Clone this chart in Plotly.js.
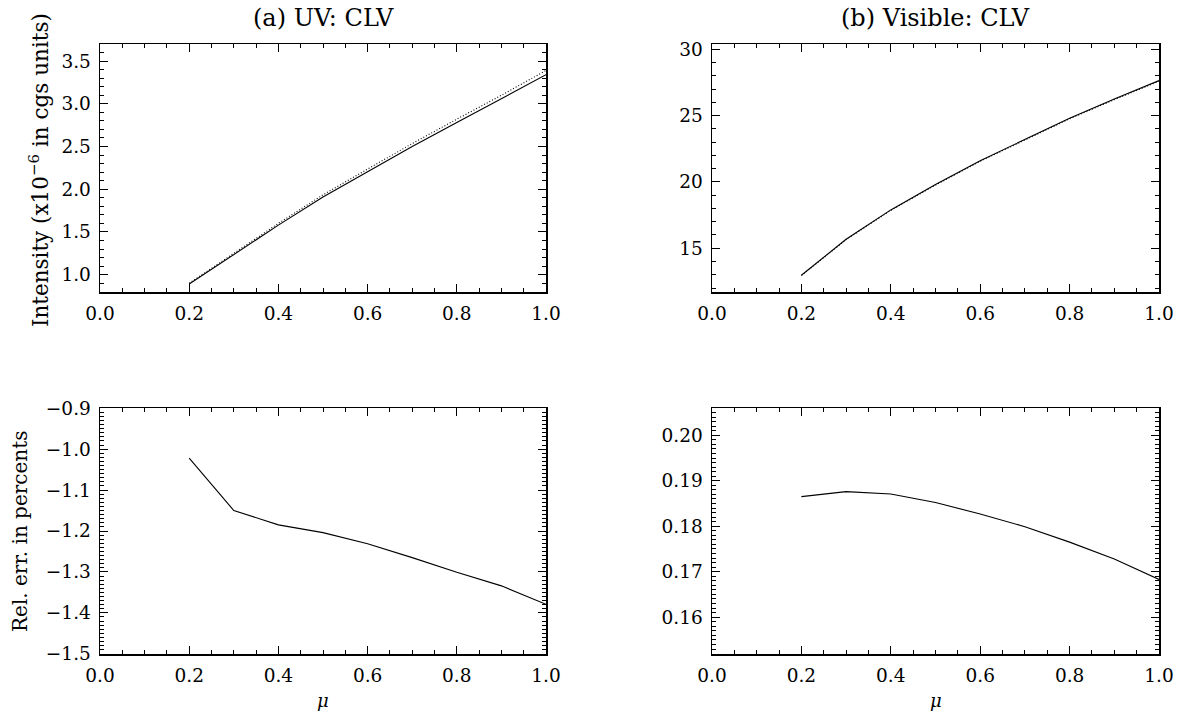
<!DOCTYPE html>
<html>
<head>
<meta charset="utf-8">
<script src="https://cdn.plot.ly/plotly-3.0.1.min.js"></script>
<style>html,body{margin:0;padding:0;background:#fff;}#chart{width:1178px;height:713px;}</style>
</head>
<body>
<div id="chart"></div>
<script>
// ---- data ----
const mu = [0.2, 0.3, 0.4, 0.5, 0.6, 0.7, 0.8, 0.9, 1.0];
const uvSolid  = [0.89, 1.24, 1.58, 1.91, 2.21, 2.50, 2.78, 3.06, 3.34];
const uvDotted = [0.90, 1.255, 1.60, 1.935, 2.24, 2.535, 2.82, 3.10, 3.39];
const visSolid  = [12.96, 15.68, 17.89, 19.80, 21.60, 23.20, 24.80, 26.25, 27.64];
const visDotted = [12.94, 15.65, 17.86, 19.76, 21.56, 23.16, 24.76, 26.20, 27.59];
const uvErr  = [-1.022, -1.150, -1.185, -1.204, -1.231, -1.265, -1.301, -1.334, -1.379];
const visErr = [0.1865, 0.1876, 0.1871, 0.1852, 0.1827, 0.1799, 0.1765, 0.1728, 0.1683];

const titleA = "(a) UV: CLV";
const titleB = "(b) Visible: CLV";
const yTitleTop = "Intensity (x10<sup>−6</sup> in cgs units)";
const yTitleBottom = "Rel. err. in percents";
const xTitle = "<i>μ</i>";

const FONT = "DejaVu Serif";
const W = 1178, H = 713;

function line(x, y, xa, ya, dash) {
  return {x: x, y: y, xaxis: xa, yaxis: ya, type: 'scatter', mode: 'lines',
          line: {color: '#000', width: 1.1, dash: dash || 'solid'}, hoverinfo: 'skip'};
}

const data = [
  line(mu, uvSolid, 'x', 'y'),
  line(mu, uvDotted, 'x', 'y', '1px,2px'),
  line(mu, visSolid, 'x2', 'y2'),
  line(mu, visDotted, 'x2', 'y2', '1px,2px'),
  line(mu, uvErr, 'x3', 'y3'),
  line(mu, visErr, 'x4', 'y4')
];

function ax(extra) {
  return Object.assign({
    showline: true, linecolor: '#000', linewidth: 1.5, mirror: 'allticks',
    ticks: 'inside', ticklen: 8, tickwidth: 1, tickcolor: '#000',
    showgrid: false, zeroline: false, fixedrange: true,
    tickfont: {family: FONT, size: 18.5, color: '#000'},
    ticklabelstandoff: 4
  }, extra);
}

function xAx(domain, anchor) {
  return ax({domain: domain, anchor: anchor, range: [0, 1], dtick: 0.2, tick0: 0,
    tickformat: '.1f', minor: {dtick: 0.05, ticklen: 4, ticks: 'inside', tickcolor: '#000', showgrid: false}});
}

const xd1 = [100 / W, 546 / W];
const xd2 = [712 / W, 1159 / W];
const yd1 = [1 - 292 / H, 1 - 44 / H];
const yd2 = [1 - 654 / H, 1 - 408 / H];

const layout = {
  width: W, height: H,
  margin: {l: 0, r: 0, t: 0, b: 0},
  paper_bgcolor: '#fff', plot_bgcolor: '#fff',
  showlegend: false,
  font: {family: FONT, color: '#000'},
  xaxis: xAx(xd1, 'y'),
  xaxis2: xAx(xd2, 'y2'),
  xaxis3: xAx(xd1, 'y3'),
  xaxis4: xAx(xd2, 'y4'),
  yaxis: ax({domain: yd1, anchor: 'x', range: [0.797, 3.70], dtick: 0.5, tick0: 0, tickformat: '.1f',
    minor: {dtick: 0.1, ticklen: 4, ticks: 'inside', tickcolor: '#000', showgrid: false}}),
  yaxis2: ax({domain: yd1, anchor: 'x2', range: [11.7, 30.4], dtick: 5, tick0: 0, tickformat: 'd',
    minor: {dtick: 1, ticklen: 4, ticks: 'inside', tickcolor: '#000', showgrid: false}}),
  yaxis3: ax({domain: yd2, anchor: 'x3', range: [-1.5005, -0.8995], dtick: 0.1, tick0: 0, tickformat: '.1f',
    minor: {dtick: 0.01, ticklen: 4, ticks: 'inside', tickcolor: '#000', showgrid: false}}),
  yaxis4: ax({domain: yd2, anchor: 'x4', range: [0.1519, 0.2060], dtick: 0.01, tick0: 0, tickformat: '.2f',
    minor: {dtick: 0.001, ticklen: 4, ticks: 'inside', tickcolor: '#000', showgrid: false}}),
  annotations: [
    {text: titleA, xref: 'paper', yref: 'paper', x: (xd1[0] + xd1[1]) / 2, y: 1 - 18 / H,
     xanchor: 'center', yanchor: 'middle', showarrow: false, font: {family: FONT, size: 24, color: '#000'}},
    {text: titleB, xref: 'paper', yref: 'paper', x: (xd2[0] + xd2[1]) / 2, y: 1 - 18 / H,
     xanchor: 'center', yanchor: 'middle', showarrow: false, font: {family: FONT, size: 24, color: '#000'}},
    {text: yTitleTop, xref: 'paper', yref: 'paper', x: 39 / W, y: 1 - 170 / H,
     xanchor: 'center', yanchor: 'middle', textangle: -90, showarrow: false, font: {family: FONT, size: 21.5, color: '#000'}},
    {text: yTitleBottom, xref: 'paper', yref: 'paper', x: 20 / W, y: 1 - 531 / H,
     xanchor: 'center', yanchor: 'middle', textangle: -90, showarrow: false, font: {family: FONT, size: 20, color: '#000'}},
    {text: xTitle, xref: 'paper', yref: 'paper', x: (xd1[0] + xd1[1]) / 2, y: 1 - 700 / H,
     xanchor: 'center', yanchor: 'middle', showarrow: false, font: {family: FONT, size: 18, color: '#000'}},
    {text: xTitle, xref: 'paper', yref: 'paper', x: (xd2[0] + xd2[1]) / 2, y: 1 - 700 / H,
     xanchor: 'center', yanchor: 'middle', showarrow: false, font: {family: FONT, size: 18, color: '#000'}}
  ]
};

Plotly.newPlot('chart', data, layout, {staticPlot: true, displayModeBar: false});
</script>
</body>
</html>
